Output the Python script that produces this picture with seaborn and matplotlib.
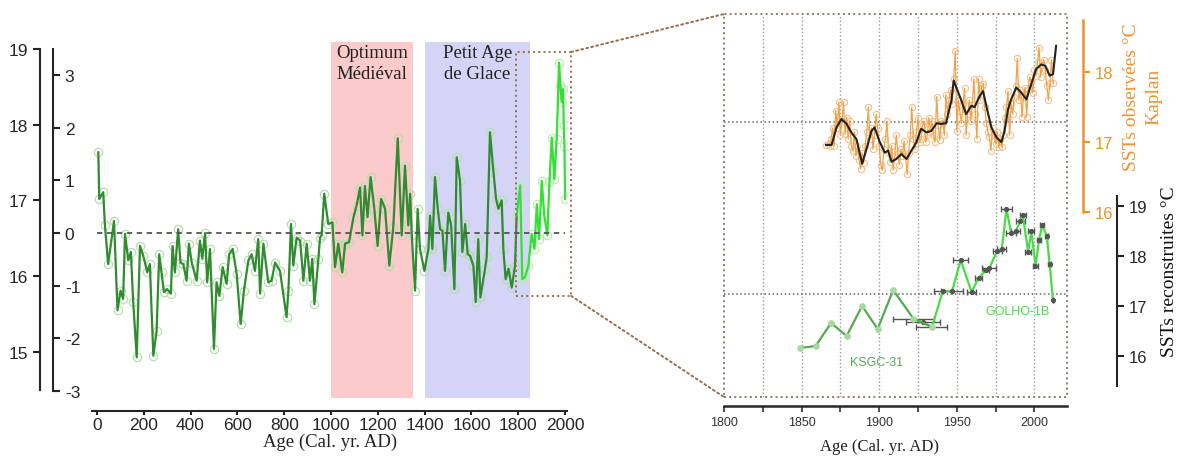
import matplotlib
matplotlib.use('Agg')
import matplotlib.pyplot as plt
import seaborn as sns
import pandas as pd
from matplotlib.patches import Rectangle, ConnectionPatch
from matplotlib.ticker import MultipleLocator

# ---- left panel: long SST reconstruction (deg C) ----
ksgc_years = [6, 10, 27, 34, 48, 73, 88, 101, 112, 120,
              134, 145, 155, 170, 184, 198, 215, 226, 241, 255,
              266, 276, 286, 300, 316, 323, 333, 347, 357, 369,
              383, 393, 405, 426, 440, 450, 462, 471, 483, 500,
              511, 523, 537, 554, 565, 580, 597, 614, 628, 647,
              661, 675, 689, 697, 711, 732, 746, 761, 782, 810,
              818, 829, 839, 853, 868, 882, 896, 910, 920, 929,
              946, 953, 960, 971, 988, 1006, 1017, 1031, 1048, 1060,
              1077, 1096, 1109, 1124, 1134, 1145, 1156, 1169, 1185, 1199,
              1214, 1231, 1249, 1266, 1285, 1302, 1316, 1330, 1338, 1345,
              1359, 1370, 1380, 1399, 1416, 1423, 1433, 1444, 1456, 1466,
              1476, 1487, 1501, 1513, 1527, 1537, 1551, 1561, 1573, 1584,
              1594, 1608, 1618, 1629, 1638, 1658, 1665, 1679, 1694, 1705,
              1715, 1729, 1736, 1746, 1758, 1772, 1786, 1793]
ksgc_sst = [17.64, 17.02, 17.11, 16.68, 16.16, 16.73, 15.55, 15.81, 15.70, 16.56,
            16.21, 16.32, 15.66, 14.93, 16.40, 16.27, 16.05, 16.16, 14.95, 15.28,
            16.29, 16.05, 15.79, 15.83, 15.77, 16.40, 16.05, 16.62, 16.18, 16.16,
            15.94, 16.43, 16.18, 15.94, 16.47, 16.23, 16.57, 15.92, 16.36, 15.04,
            15.92, 15.74, 16.12, 15.90, 16.29, 16.36, 16.03, 15.37, 15.81, 16.21,
            16.29, 16.07, 16.49, 15.77, 16.43, 15.92, 15.94, 16.18, 16.07, 15.46,
            15.81, 16.69, 16.14, 16.51, 16.47, 15.94, 16.43, 15.94, 16.23, 15.63,
            16.23, 16.51, 16.54, 17.09, 16.69, 16.71, 16.12, 16.43, 16.05, 16.43,
            16.45, 16.78, 16.93, 17.17, 16.54, 17.19, 16.78, 17.31, 16.89, 16.40,
            17.02, 16.89, 16.14, 16.65, 17.82, 16.54, 17.46, 16.67, 17.09, 16.54,
            15.81, 16.89, 16.36, 16.07, 16.36, 16.80, 16.36, 17.31, 16.89, 16.62,
            16.60, 16.07, 16.84, 16.67, 15.83, 17.57, 17.26, 16.32, 16.69, 16.29,
            16.27, 16.14, 15.66, 16.49, 15.72, 16.10, 16.25, 17.90, 17.37, 17.02,
            16.89, 17.00, 16.36, 15.96, 16.10, 15.85, 16.14, 16.80]
golho_years = [1793, 1808, 1817, 1829, 1843, 1857, 1869, 1879, 1889, 1900, 1911, 1924,
               1933, 1943, 1954, 1964, 1974, 1980, 1985, 1991, 1994, 1997, 2000]
golho_sst = [16.80, 17.20, 15.96, 15.99, 16.14, 16.56, 16.36, 16.95, 16.49, 17.26, 16.80, 16.54,
             17.24, 17.83, 17.28, 17.81, 18.82, 18.52, 18.30, 18.47, 18.00, 17.72, 17.02]
baseline_sst = 16.57   # anomaly 0

period_names = ['Optimum\nMédiéval', 'Petit Age\nde Glace']
period_start = [1000, 1400]
period_end = [1350, 1850]

# ---- right panel: zoom on 1800-2013 ----
kaplan_years = list(range(1866, 2013))
kaplan_sst = [16.96, 16.98, 16.95, 17.05, 17.20, 16.95, 17.45, 17.20, 17.57, 17.10,
              17.30, 17.57, 17.11, 17.35, 17.05, 17.30, 16.95, 16.87, 17.15, 16.80,
              16.95, 16.75, 16.62, 16.85, 16.70, 16.95, 17.15, 17.50, 17.05, 17.20,
              16.90, 17.10, 17.40, 17.20, 16.95, 16.68, 16.60, 16.90, 17.05, 17.30,
              16.85, 16.72, 16.95, 16.60, 16.80, 17.10, 16.85, 16.68, 16.90, 16.80,
              17.02, 16.80, 16.54, 16.85, 17.10, 17.50, 17.05, 16.90, 17.15, 17.35,
              17.00, 17.05, 17.25, 17.30, 17.00, 17.10, 17.35, 17.15, 17.30, 17.10,
              17.00, 17.65, 17.25, 17.03, 17.30, 17.28, 17.10, 17.68, 17.40, 17.60,
              17.75, 17.55, 17.90, 18.30, 17.16, 17.60, 17.44, 17.27, 17.55, 17.77,
              17.10, 17.40, 17.60, 17.30, 17.55, 17.90, 17.40, 17.05, 17.90, 17.60,
              17.80, 17.83, 17.50, 17.27, 17.15, 17.07, 16.88, 17.20, 17.10, 16.97,
              17.15, 16.93, 17.05, 16.93, 17.10, 17.35, 17.50, 17.73, 17.10, 17.55,
              17.40, 17.65, 17.80, 18.20, 17.60, 17.75, 17.36, 17.65, 17.78, 17.36,
              17.75, 17.93, 17.86, 17.70, 18.03, 17.95, 18.15, 18.35, 17.93, 18.10,
              18.18, 18.03, 17.80, 17.60, 17.85, 18.18, 17.84]
smooth_years = [1865.6, 1869.3, 1872.5, 1875.7, 1879, 1882, 1885.4, 1889, 1891.8, 1895,
                1897, 1900.4, 1903.6, 1905.7, 1908, 1911, 1914.3, 1917.6, 1920.8, 1924,
                1927, 1930.4, 1933.6, 1937, 1940, 1943, 1946.5, 1948, 1949.7, 1953,
                1956, 1959.4, 1961.5, 1964.3, 1966.9, 1969.5, 1972.3, 1975.5, 1978.7, 1980.8,
                1983, 1985, 1988.3, 1991.5, 1994.8, 1998, 2001, 2004.4, 2007, 2009.8,
                2012, 2014]
smooth_sst = [16.96, 16.96, 17.21, 17.33, 17.26, 17.14, 17.04, 16.69, 16.90, 17.16,
              17.21, 17.00, 16.85, 16.88, 16.72, 16.76, 16.83, 16.76, 16.88, 17.00,
              17.19, 17.14, 17.16, 17.27, 17.26, 17.27, 17.59, 17.88, 17.78, 17.59,
              17.40, 17.52, 17.50, 17.64, 17.73, 17.47, 17.21, 17.07, 17.00, 17.16,
              17.47, 17.61, 17.78, 17.71, 17.61, 17.83, 18.04, 18.11, 18.09, 17.95,
              17.97, 18.38]
ksgc_zoom_years = [1849, 1859, 1869, 1879, 1889, 1899, 1909, 1922, 1934]
ksgc_zoom_sst = [16.16, 16.20, 16.66, 16.40, 17.00, 16.54, 17.32, 16.75, 16.58]
golho_zoom_years = [1922, 1928, 1934, 1941, 1947, 1952.5, 1959.5, 1964, 1969, 1971, 1976, 1979,
                    1982, 1985, 1988, 1991, 1992.5, 1996, 1998, 2000.7, 2003, 2005, 2008, 2009.8, 2012]
golho_zoom_sst = [16.75, 16.67, 16.58, 17.30, 17.30, 17.92, 17.28, 17.56, 17.72, 17.76, 18.10, 18.14,
                  18.94, 18.46, 18.50, 18.70, 18.82, 18.08, 18.50, 17.80, 18.32, 18.62, 18.40, 17.84, 17.12]
golho_zoom_err = [13, 11, 10, 6, 7, 5, 3, 2.5, 2, 4.5, 3, 3,
                  3.5, 3, 3, 3, 2, 2, 2, 1.5, 1.5, 1.5, 1, 1, 0]

sns.set_style('ticks')
plt.rcParams['font.family'] = ['Liberation Sans', 'DejaVu Sans']
plt.rcParams['axes.unicode_minus'] = False
SERIF = ['Liberation Serif', 'DejaVu Serif']
BROWN = '#9b6b4a'
ORANGE = '#ef922e'

W, H = 1184, 477
fig = plt.figure(figsize=(W / 100, H / 100), dpi=100)


def box(l, t, r, b):
    return [l / W, 1 - b / H, (r - l) / W, (b - t) / H]


# ================= left panel =================
ax = fig.add_axes(box(92, 43, 567, 412))
ax.set_xlim(-21, 2008)
ax.set_ylim(14.221, 19.092)

for name, x0, x1, col in zip(period_names, period_start, period_end, ['#fbcaca', '#d4d4f7']):
    ax.axvspan(x0, x1, ymin=0.035, ymax=1, color=col, lw=0, zorder=0)
    ax.text((x0 + x1) / 2, 19.06, name, ha='center', va='top', fontsize=13.5,
            family=SERIF, color='#222222', linespacing=1.3)

df_ksgc = pd.DataFrame({'year': ksgc_years, 'sst': ksgc_sst})
df_golho = pd.DataFrame({'year': golho_years, 'sst': golho_sst})
ax.plot(df_ksgc.year, df_ksgc.sst, 'o', ms=6, mfc='none', mec='#b9ddb2', mew=0.9, zorder=2)
ax.plot(df_golho.year, df_golho.sst, 'o', ms=6, mfc='none', mec='#b8f0b0', mew=0.9, zorder=2)
sns.lineplot(data=df_ksgc, x='year', y='sst', ax=ax, color='#2f8c2f', lw=1.6, zorder=3)
sns.lineplot(data=df_golho, x='year', y='sst', ax=ax, color='#33e033', lw=1.6, zorder=3)
ax.plot([0, 2000], [baseline_sst, baseline_sst], ls=(0, (3, 2.5)), color='#555555', lw=1.3, zorder=4)

ax.add_patch(Rectangle((1790, 15.74), 236, 3.22, fill=False, ls=':', ec=BROWN, lw=1.4,
                       clip_on=False, zorder=5))

ax.set_xticks(range(0, 2001, 200))
ax.set_yticks(range(15, 20))
ax.tick_params(axis='both', labelsize=12.5, width=1.5, length=5, color='#222222')
ax.tick_params(axis='x', length=3, pad=1.5)
for s in ['top', 'right']:
    ax.spines[s].set_visible(False)
ax.spines['left'].set_position(('outward', 52 * 0.72))
ax.spines['left'].set_bounds(14.5, 19)
for s in ['left', 'bottom']:
    ax.spines[s].set_linewidth(1.5)
ax.set_xlabel('')
ax.set_ylabel('')
fig.text(330 / W, 1 - 442 / H, 'Age (Cal. yr. AD)', ha='center', va='center',
         fontsize=13.5, family=SERIF, color='#222222')

ax_a = ax.twinx()
ax_a.set_ylim(-3.378, 3.624)
for s in ['top', 'left', 'bottom']:
    ax_a.spines[s].set_visible(False)
ax_a.spines['right'].set_position(('axes', (53 - 92) / 475))
ax_a.spines['right'].set_bounds(-3, 3.49)
ax_a.spines['right'].set_linewidth(1.5)
ax_a.set_yticks(range(-3, 4))
ax_a.tick_params(axis='y', labelsize=12.5, width=1.5, length=5, color='#222222')

# ================= right panel =================
ax_r = fig.add_axes(box(724, 15, 1067, 398))
ax_r.set_xlim(1800, 2021)
ax_r.set_ylim(15.18, 22.84)

for yr in range(1825, 2001, 25):
    ax_r.axvline(yr, ls=':', color='#9a9a9a', lw=1, zorder=0)
for ref in [20.68, 17.24]:
    ax_r.axhline(ref, ls=':', color='#666666', lw=1.1, zorder=0)
ax_r.add_patch(Rectangle((0, 0), 1, 1, transform=ax_r.transAxes, fill=False, ls=':',
                         ec='#8c7b6b', lw=1.4, clip_on=False, zorder=1))

df_kz = pd.DataFrame({'year': ksgc_zoom_years, 'sst': ksgc_zoom_sst})
df_gz = pd.DataFrame({'year': golho_zoom_years, 'sst': golho_zoom_sst})
ax_r.errorbar(golho_zoom_years, golho_zoom_sst, xerr=golho_zoom_err, fmt='none',
              ecolor='#555555', elinewidth=1, capsize=2, zorder=2)
sns.lineplot(data=df_gz, x='year', y='sst', ax=ax_r, color='#47dd47', lw=1.6,
             marker='o', ms=3, mfc='#555555', mec='#555555', zorder=3)
sns.lineplot(data=df_kz, x='year', y='sst', ax=ax_r, color='#55a955', lw=1.6,
             marker='o', ms=4, mfc='#a8d8a0', mec='#a8d8a0', zorder=4)
ax_r.text(1898.5, 15.88, 'KSGC-31', color='#55a955', fontsize=9, ha='center', va='center')
ax_r.text(1989, 16.9, 'GOLHO-1B', color='#47dd47', fontsize=9, ha='center', va='center')

ax_r.xaxis.set_major_locator(MultipleLocator(50))
ax_r.xaxis.set_minor_locator(MultipleLocator(25))
ax_r.tick_params(axis='x', which='both', labelsize=9, width=1.2, length=4, colors='#333333')
for s in ['top', 'left']:
    ax_r.spines[s].set_visible(False)
ax_r.spines['bottom'].set_position(('outward', 6.5))
ax_r.spines['bottom'].set_bounds(1800, 2021)
ax_r.spines['bottom'].set_linewidth(1.8)
ax_r.spines['right'].set_position(('outward', 36))
ax_r.spines['right'].set_bounds(15.4, 19.2)
ax_r.spines['right'].set_linewidth(1.5)
ax_r.set_xlabel('')
ax_r.set_ylabel('')
fig.text(880 / W, 1 - 447 / H, 'Age (Cal. yr. AD)', ha='center', va='center',
         fontsize=12, family=SERIF, color='#222222')

ax_o = ax_r.twinx()
# twinx moves the host ticks to the left, put them back on the right
ax_r.yaxis.tick_right()
ax_r.set_yticks(range(16, 20))
ax_r.tick_params(axis='y', labelsize=12, width=1.5, length=5, color='#222222')
ax_o.set_ylim(13.36, 18.83)
df_kap = pd.DataFrame({'year': kaplan_years, 'sst': kaplan_sst})
df_smooth = pd.DataFrame({'year': smooth_years, 'sst': smooth_sst})
ax_o.plot(df_kap.year, df_kap.sst, 'o', ms=4.5, mfc='none', mec='#f5c08c', mew=0.8, zorder=2)
sns.lineplot(data=df_kap, x='year', y='sst', ax=ax_o, color='#f0a24a', lw=0.9, zorder=3)
sns.lineplot(data=df_smooth, x='year', y='sst', ax=ax_o, color='#222222', lw=1.5, zorder=4)
for s in ['top', 'left', 'bottom']:
    ax_o.spines[s].set_visible(False)
ax_o.spines['right'].set_position(('outward', 11.5))
ax_o.spines['right'].set_bounds(16, 18.75)
ax_o.spines['right'].set_color(ORANGE)
ax_o.spines['right'].set_linewidth(1.8)
ax_o.set_yticks([16, 17, 18])
ax_o.tick_params(axis='y', labelsize=12, width=1.5, length=5, color=ORANGE, labelcolor=ORANGE)
ax_o.set_xlabel('')
ax_o.set_ylabel('')

fig.text(1132 / W, 1 - 97 / H, 'SSTs observées °C', rotation=90, ha='center', va='center',
         fontsize=14, family=SERIF, color=ORANGE)
fig.text(1154 / W, 1 - 97 / H, 'Kaplan', rotation=90, ha='center', va='center',
         fontsize=14, family=SERIF, color=ORANGE)
fig.text(1170 / W, 1 - 272 / H, 'SSTs reconstruites °C', rotation=90, ha='center', va='center',
         fontsize=14, family=SERIF, color='#111111')

# zoom connectors
for ya, yb in [(18.96, 1), (15.74, 0)]:
    con = ConnectionPatch(xyA=(2026, ya), coordsA=ax.transData, xyB=(0, yb), coordsB=ax_r.transAxes,
                          ls=':', color=BROWN, lw=1.4)
    fig.add_artist(con)

fig.savefig('out.png', dpi=100)
